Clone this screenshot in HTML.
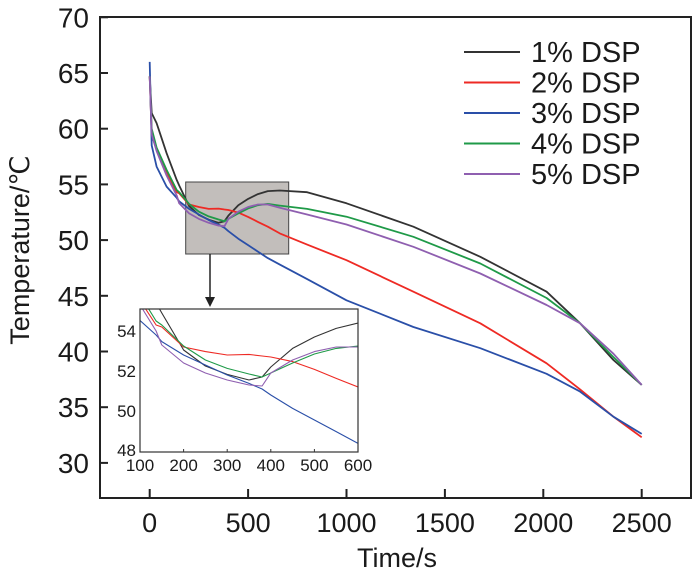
<!DOCTYPE html>
<html><head><meta charset="utf-8"><style>
html,body{margin:0;padding:0;background:#fff;width:699px;height:577px;overflow:hidden;}
svg{display:block;font-family:"Liberation Sans",Arial,sans-serif;}
</style></head><body>
<svg id="chart" width="699" height="577" viewBox="0 0 699 577"></svg>
<script>
const times = [0,10,35,86,137,150,200,250,300,350,380,400,450,500,550,600,661,800,1000,1340,1680,2017,2187,2356,2500];
const dsp1 = [64.7,61.4,60.5,57.8,55.4,54.9,53.05,52.25,51.83,51.55,51.7,52.2,53.13,53.7,54.13,54.4,54.45,54.3,53.3,51.2,48.5,45.37,42.53,39.24,37.0];
const dsp2 = [64.7,59.5,58.1,56.0,54.3,54.2,53.2,52.97,52.8,52.83,52.75,52.7,52.47,52.08,51.63,51.2,50.6,49.6,48.2,45.37,42.53,38.94,36.6,34.15,32.3];
const dsp3 = [66.0,58.5,56.6,54.8,53.8,53.47,52.8,52.3,51.8,51.38,51.1,50.8,50.13,49.55,48.97,48.38,47.8,46.5,44.6,42.2,40.3,38.0,36.4,34.15,32.6];
const dsp4 = [64.7,60.0,58.3,56.3,54.5,54.3,53.25,52.55,52.13,51.85,51.7,51.9,52.4,52.85,53.13,53.25,53.1,52.8,52.1,50.3,47.9,44.8,42.53,39.5,37.0];
const dsp5 = [64.7,59.5,58.0,55.8,54.0,53.3,52.4,51.9,51.55,51.3,51.25,51.9,52.55,52.97,53.2,53.2,52.9,52.3,51.4,49.4,47.0,44.17,42.53,39.8,37.0];
const seriesNames = ["1% DSP","2% DSP","3% DSP","4% DSP","5% DSP"];
const xTicks = [0,500,1000,1500,2000,2500];
const yTicks = [30,35,40,45,50,55,60,65,70];
const insetXTicks = [100,200,300,400,500,600];
const insetYTicks = [48,50,52,54];

const seriesData = [dsp1,dsp2,dsp3,dsp4,dsp5];
const colors = ["#333333","#ee2a24","#2a4fa8","#1f9a48","#8f5fb0"];
const NS = "http://www.w3.org/2000/svg";
const svg = document.getElementById("chart");
function el(tag, attrs, parent){const e=document.createElementNS(NS,tag);for(const k in attrs)e.setAttribute(k,attrs[k]);(parent||svg).appendChild(e);return e;}

const L=100,R=691,T=17,B=498;
const xs = t => 149.7 + t*0.19680;
const ys = v => 17.3 + (70-v)*11.14;

const zb = el("rect",{x:185.7,y:182,width:103,height:72,fill:"#c2bebb",stroke:"#444","stroke-width":1});



const clipM = el("clipPath",{id:"clipMain"}); el("rect",{x:L,y:T,width:R-L,height:B-T},clipM);
seriesData.forEach((d,i)=>{
  const p = el("polyline",{points:times.map((t,j)=>xs(t).toFixed(1)+","+ys(d[j]).toFixed(1)).join(" "),fill:"none",stroke:colors[i],"stroke-width":1.8,"stroke-linejoin":"round","clip-path":"url(#clipMain)"});
  
  
});

const frame = el("rect",{x:L,y:T,width:R-L,height:B-T,fill:"none",stroke:"#222","stroke-width":2});



xTicks.forEach(v=>{
  const x=xs(v);
  const tk=el("line",{x1:x,y1:B,x2:x,y2:B-9,stroke:"#222","stroke-width":2});
  
  
  const tx=el("text",{x:x,y:532,"text-anchor":"middle","font-size":27,fill:"#1a1a1a"});
  tx.textContent=v;
  
  
});
yTicks.forEach(v=>{
  const y=ys(v);
  const tk=el("line",{x1:L,y1:y,x2:L+8,y2:y,stroke:"#222","stroke-width":2});
  
  
  const tx=el("text",{x:89,y:y+10,"text-anchor":"end","font-size":28,fill:"#1a1a1a"});
  tx.textContent=v;
  
  
});

const xt=el("text",{x:397,y:567,"text-anchor":"middle","font-size":27,fill:"#1a1a1a"});
xt.textContent="Time/s";


const yt=el("text",{x:0,y:0,"text-anchor":"middle","font-size":27,fill:"#1a1a1a",transform:"translate(29,250) rotate(-90)"});
yt.textContent="Temperature/℃";



seriesNames.forEach((n,i)=>{
  const y=52+i*30.5;
  const ln=el("line",{x1:464,y1:y,x2:520,y2:y,stroke:colors[i],"stroke-width":2});
  
  
  const tx=el("text",{x:531,y:y+10,"font-size":29,fill:"#1a1a1a"});
  tx.textContent=n;
  
  
});

const ar=el("line",{x1:210,y1:254,x2:210,y2:298,stroke:"#222","stroke-width":1.5});


const ah=el("polygon",{points:"205,297 215,297 210,307",fill:"#222"});



const IL=140,IR=358,IT=309,IB=452;
const ixs = t => IL + (t-100)*(IR-IL)/500;
const iys = v => 331 + (54-v)*20;
const ibg=el("rect",{x:IL,y:IT,width:IR-IL,height:IB-IT,fill:"#fff"});


const clipI = el("clipPath",{id:"clipInset"}); el("rect",{x:IL,y:IT,width:IR-IL,height:IB-IT},clipI);
seriesData.forEach((d,i)=>{
  const p = el("polyline",{points:times.map((t,j)=>ixs(t).toFixed(1)+","+iys(d[j]).toFixed(1)).join(" "),fill:"none",stroke:colors[i],"stroke-width":1.1,"stroke-linejoin":"round","clip-path":"url(#clipInset)"});
  
  
});
const iframe=el("rect",{x:IL,y:IT,width:IR-IL,height:IB-IT,fill:"none",stroke:"#333","stroke-width":1.2});


insetXTicks.forEach(v=>{
  const x=ixs(v);
  const tk=el("line",{x1:x,y1:IB,x2:x,y2:IB-3,stroke:"#333","stroke-width":1});
  
  
  const tx=el("text",{x:x,y:471,"text-anchor":"middle","font-size":17,fill:"#1a1a1a"});
  tx.textContent=v;
  
  
});
insetYTicks.forEach(v=>{
  const y=iys(v);
  const tx=el("text",{x:136,y:Math.min(y+6,IB+4),"text-anchor":"end","font-size":17,fill:"#1a1a1a"});
  tx.textContent=v;
  
  
});
</script>
</body></html>
